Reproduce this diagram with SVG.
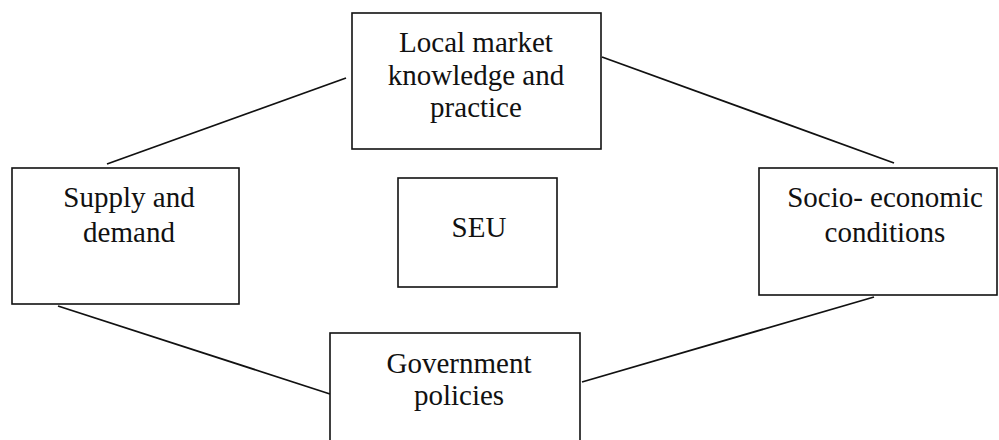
<svg xmlns="http://www.w3.org/2000/svg" width="999" height="440" viewBox="0 0 999 440">
  <style>
    .box { fill: #ffffff; stroke: #111111; stroke-width: 1.6; }
    .lbl { font-family: "Liberation Serif", "Times New Roman", serif; font-size: 29px; fill: #111111; text-anchor: middle; }
    .link { stroke: #111111; stroke-width: 1.8; fill: none; }
  </style>
  <rect width="999" height="440" fill="#ffffff"/>

  <!-- connectors forming the outer ring -->
  <g id="connectors">
    <line class="link" x1="107" y1="164" x2="346" y2="78"/>
    <line class="link" x1="602" y1="57" x2="894" y2="163"/>
    <line class="link" x1="58" y1="306" x2="330" y2="394"/>
    <line class="link" x1="582" y1="382" x2="874" y2="297"/>
  </g>

  <g id="local-market">
    <rect class="box" x="352" y="13" width="249" height="136"/>
    <text class="lbl" x="476" y="52">Local market</text>
    <text class="lbl" x="476" y="85">knowledge and</text>
    <text class="lbl" x="476" y="117">practice</text>
  </g>

  <g id="supply-demand">
    <rect class="box" x="12" y="168" width="227" height="136"/>
    <text class="lbl" x="129" y="207">Supply and</text>
    <text class="lbl" x="129" y="242">demand</text>
  </g>

  <g id="seu">
    <rect class="box" x="398" y="178" width="159" height="109"/>
    <text class="lbl" x="479" y="237">SEU</text>
  </g>

  <g id="socio-economic">
    <rect class="box" x="759" y="168" width="238" height="127"/>
    <text class="lbl" x="885" y="207">Socio- economic</text>
    <text class="lbl" x="885" y="242">conditions</text>
  </g>

  <g id="government">
    <rect class="box" x="330" y="333" width="250" height="120"/>
    <text class="lbl" x="459" y="373">Government</text>
    <text class="lbl" x="459" y="405">policies</text>
  </g>
</svg>
